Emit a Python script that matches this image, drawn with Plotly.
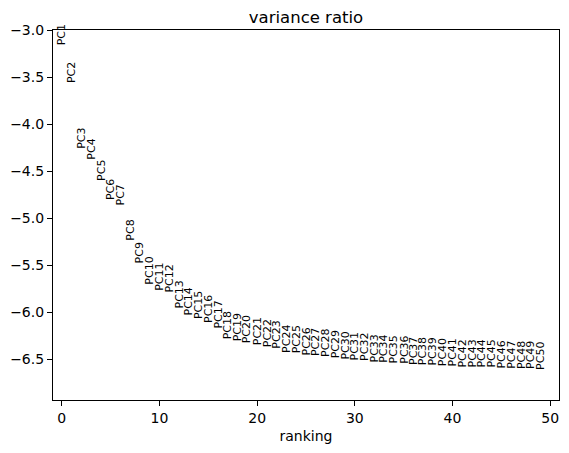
import plotly.graph_objects as go

# ranking position of each principal component and its (log) variance ratio
ranking = list(range(50))
labels = ["PC%d" % (i + 1) for i in ranking]
log_variance_ratio = [
    -3.170, -3.574, -4.277, -4.394, -4.612, -4.819, -4.878, -5.255, -5.489, -5.723,
    -5.780, -5.801, -5.973, -6.050, -6.090, -6.124, -6.186, -6.303, -6.327, -6.340,
    -6.362, -6.386, -6.404, -6.441, -6.447, -6.473, -6.482, -6.493, -6.500, -6.516,
    -6.527, -6.535, -6.543, -6.550, -6.559, -6.564, -6.569, -6.574, -6.580, -6.590,
    -6.595, -6.598, -6.600, -6.603, -6.606, -6.608, -6.613, -6.618, -6.620, -6.622,
]
x_ticks = [0, 10, 20, 30, 40, 50]
y_ticks = [-3.0, -3.5, -4.0, -4.5, -5.0, -5.5, -6.0, -6.5]

FONT = "DejaVu Sans"

fig = go.Figure()
# invisible trace so the axes exist
fig.add_trace(go.Scatter(x=ranking, y=log_variance_ratio, mode="markers",
                         marker=dict(opacity=0), hoverinfo="skip", showlegend=False))

for x, y, lab in zip(ranking, log_variance_ratio, labels):
    fig.add_annotation(x=x, y=y, text=lab, textangle=-90, showarrow=False,
                       xanchor="center", yanchor="bottom", borderpad=0,
                       font=dict(family=FONT, size=11, color="black"))

axis_common = dict(showline=True, linecolor="black", linewidth=1.1, mirror=True,
                   ticks="outside", ticklen=5, tickwidth=1.1, tickcolor="black",
                   showgrid=False, zeroline=False, automargin=False,
                   tickfont=dict(family=FONT, size=14, color="black"))

fig.update_xaxes(range=[-0.9, 50.9], tickvals=x_ticks,
                 title=dict(text="ranking", font=dict(family=FONT, size=14, color="black"),
                            standoff=6),
                 **axis_common)
fig.update_yaxes(range=[-6.936, -3.0], tickvals=y_ticks, tickformat=".1f", **axis_common)

# page body has an 8px margin, so the figure is a bit smaller than the window
fig.update_layout(
    width=561, height=445,
    margin=dict(l=45, r=10, t=22, b=53, autoexpand=False),
    paper_bgcolor="white", plot_bgcolor="white",
    title=dict(text="variance ratio", x=0.5, xref="paper", y=1 - 9 / 445, yref="container",
               xanchor="center", yanchor="middle", automargin=False,
               font=dict(family=FONT, size=16.5, color="black")),
    showlegend=False,
)

fig.write_html("out.html")
